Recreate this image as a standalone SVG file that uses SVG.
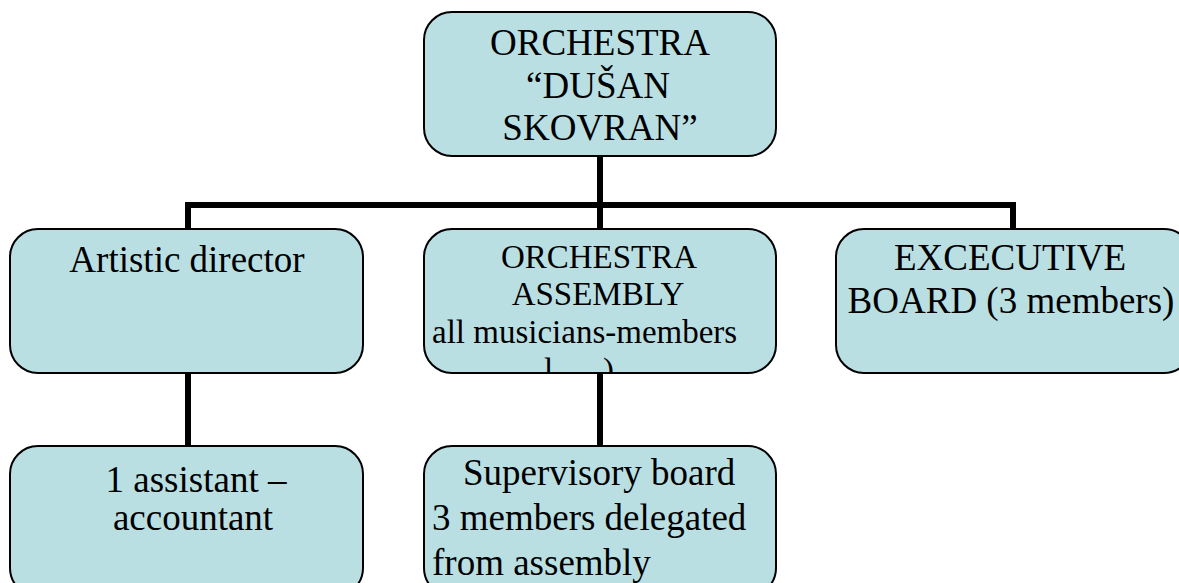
<svg xmlns="http://www.w3.org/2000/svg" width="1179" height="583" viewBox="0 0 1179 583">
<defs>
<style>
.box{fill:#badfe3;stroke:#000;stroke-width:2}
.c{fill:none;stroke:#000;stroke-width:6}
</style>
<clipPath id="clipAsm"><rect x="424" y="229" width="352" height="143"/></clipPath>
</defs>
<rect width="1179" height="583" fill="#fff"/>
<g id="connectors">
<polyline class="c" points="600,156 600,205"/>
<polyline class="c" points="188,229 188,205 1013,205 1013,229"/>
<polyline class="c" points="600,205 600,229"/>
<polyline class="c" points="188,373 188,446"/>
<polyline class="c" points="600,373 600,446"/>
</g>
<g id="orchestra">
<rect class="box" x="424" y="12" width="352" height="144" rx="28"/>
<text x="600" y="55" font-family="Liberation Serif, serif" font-size="37" text-anchor="middle">ORCHESTRA</text>
<text x="598" y="98" font-family="Liberation Serif, serif" font-size="37" text-anchor="middle">“DUŠAN</text>
<text x="600" y="140" font-family="Liberation Serif, serif" font-size="37" text-anchor="middle">SKOVRAN”</text>
</g>
<g id="artistic-director">
<rect class="box" x="10" y="229" width="353" height="144" rx="28"/>
<text x="187" y="272" font-family="Liberation Serif, serif" font-size="37" text-anchor="middle">Artistic director</text>
</g>
<g id="assembly">
<rect class="box" x="424" y="229" width="352" height="144" rx="28"/>
<text x="599" y="268" font-family="Liberation Serif, serif" font-size="33" text-anchor="middle">ORCHESTRA</text>
<text x="598" y="305" font-family="Liberation Serif, serif" font-size="33" text-anchor="middle">ASSEMBLY</text>
<text x="432" y="343" font-family="Liberation Serif, serif" font-size="33">all musicians-members</text>
<g clip-path="url(#clipAsm)"><text y="381" font-family="Liberation Serif, serif" font-size="33"><tspan x="544">l</tspan><tspan x="603">)</tspan></text></g>
</g>
<g id="executive-board">
<rect class="box" x="836" y="229" width="356" height="144" rx="28"/>
<text x="1010" y="270" font-family="Liberation Serif, serif" font-size="37" text-anchor="middle">EXCECUTIVE</text>
<text x="1011" y="313" font-family="Liberation Serif, serif" font-size="37" text-anchor="middle">BOARD (3 members)</text>
</g>
<g id="assistant">
<rect class="box" x="10" y="446" width="353" height="150" rx="28"/>
<text x="196" y="492" font-family="Liberation Serif, serif" font-size="37" text-anchor="middle">1 assistant –</text>
<text x="193" y="530" font-family="Liberation Serif, serif" font-size="37" text-anchor="middle">accountant</text>
</g>
<g id="supervisory-board">
<rect class="box" x="424" y="446" width="352" height="150" rx="28"/>
<text x="463" y="485" font-family="Liberation Serif, serif" font-size="37">Supervisory board</text>
<text x="432" y="530" font-family="Liberation Serif, serif" font-size="37">3 members delegated</text>
<text x="432" y="575" font-family="Liberation Serif, serif" font-size="37">from assembly</text>
</g>
</svg>
